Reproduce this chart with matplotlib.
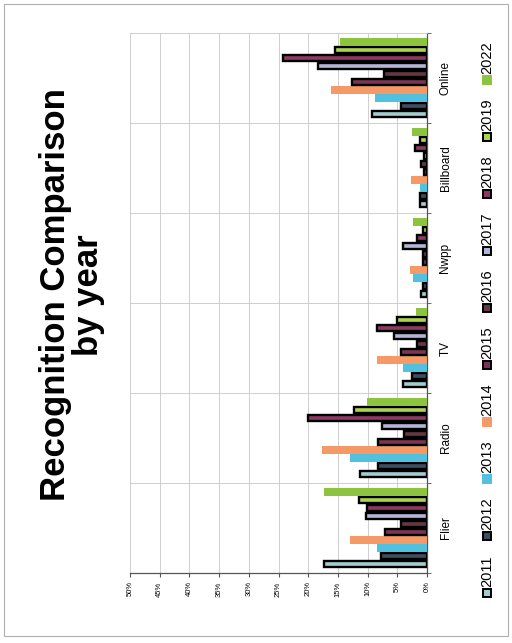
import numpy as np
import matplotlib
matplotlib.use("Agg")
import matplotlib.pyplot as plt
from matplotlib.patches import Rectangle

plt.rcParams["font.family"] = ["Liberation Sans", "DejaVu Sans"]

categories = ["Flier", "Radio", "TV", "Nwpp", "Billboard", "Online"]
years = ["2011", "2012", "2013", "2014", "2015", "2016", "2017", "2018", "2019", "2022"]

# percent values per category, one per year (2011 ... 2022)
flier = [17.3, 7.8, 8.5, 13.0, 7.0, 4.4, 10.2, 10.1, 11.5, 17.3]
radio = [11.3, 8.2, 12.9, 17.6, 8.2, 3.8, 7.6, 20.1, 12.3, 10.1]
tv = [4.1, 2.5, 4.0, 8.5, 4.4, 1.6, 5.5, 8.5, 5.1, 1.9]
nwpp = [1.0, 0.6, 2.4, 2.8, 0.7, 0.6, 4.1, 1.7, 0.7, 2.4]
billboard = [1.2, 1.2, 1.1, 2.7, 0.5, 1.0, 0.5, 2.1, 1.2, 2.5]
online = [9.2, 4.4, 8.8, 16.1, 12.7, 7.3, 18.4, 24.3, 15.5, 14.6]

colors = ["#a3cccd", "#3f4d62", "#52c0df", "#f59a66", "#7a3454",
          "#633842", "#b3b5d6", "#8c3a60", "#add253", "#8cc33f"]
outlined = [True, True, False, False, True, True, True, True, True, False]

values = np.array([flier, radio, tv, nwpp, billboard, online])

W, H = 512, 643
fig = plt.figure(figsize=(W / 100, H / 100), dpi=100)

# chart is printed sideways, so the value axis runs right-to-left
ax = fig.add_axes([130 / W, 1 - 573 / H, 297 / W, 540 / H])

n = len(years)
slot = 0.89 / n
y = np.arange(len(categories))
for j, yr in enumerate(years):
    pos = y - 0.445 + slot * (j + 0.5)
    if outlined[j]:
        ax.barh(pos, values[:, j], height=slot * 0.8, color=colors[j],
                edgecolor="black", linewidth=1.7, zorder=3)
    else:
        ax.barh(pos, values[:, j], height=slot, color=colors[j],
                linewidth=0, zorder=3)

ax.set_xlim(50, 0)
ax.set_ylim(-0.5, len(categories) - 0.5)
ax.set_xticks(np.arange(0, 51, 5))
ax.set_xticklabels([f"{v}%" for v in range(0, 51, 5)], rotation=90, fontsize=5.5)
ax.set_yticks(y)
ax.set_yticklabels(categories, rotation=90, va="center", ha="left", fontsize=8.5)
ax.set_yticks(np.arange(-0.5, len(categories), 1), minor=True)
ax.yaxis.tick_right()
ax.tick_params(axis="y", which="major", length=0, pad=9)
ax.tick_params(axis="y", which="minor", length=3, color="#555555")
ax.tick_params(axis="x", length=3, color="#555555", pad=3)

ax.grid(axis="x", color="#c8c8c8", linewidth=0.6, zorder=0)
ax.grid(axis="y", which="minor", color="#c8c8c8", linewidth=0.6, zorder=0)
for s in ["left", "top"]:
    ax.spines[s].set_color("#d0d0d0")
    ax.spines[s].set_linewidth(0.6)
for s in ["right", "bottom"]:
    ax.spines[s].set_color("#555555")
    ax.spines[s].set_linewidth(0.9)

fig.text(72 / W, 1 - 295 / H, "Recognition Comparison\nby year", rotation=90,
         ha="center", va="center", multialignment="center",
         fontsize=25, fontweight="bold", linespacing=1.0)

# legend, drawn sideways along the right edge
for j, yr in enumerate(years):
    cy = 593 - j * 57
    ec = "black" if outlined[j] else colors[j]
    fig.patches.append(Rectangle((483 / W, 1 - (cy + 4) / H), 8 / W, 8 / H,
                                 transform=fig.transFigure, facecolor=colors[j],
                                 edgecolor=ec, linewidth=1.4))
    fig.text(487 / W, 1 - (cy - 6) / H, yr, rotation=90, ha="center",
             va="bottom", fontsize=10.5)

fig.patches.append(Rectangle((4 / W, 1 - 636 / H), 504 / W, 632 / H,
                             transform=fig.transFigure, fill=False,
                             edgecolor="#b0b0b0", linewidth=0.8))

fig.savefig("out.png", dpi=100)
